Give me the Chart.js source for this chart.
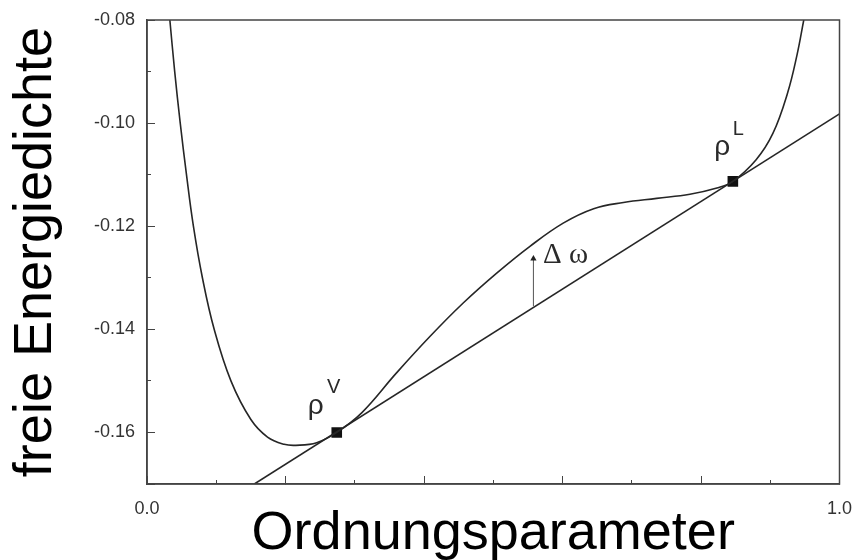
<!DOCTYPE html>
<html lang="de">
<head>
<meta charset="utf-8" />
<title>Freie Energiedichte</title>
<script src="https://cdn.jsdelivr.net/npm/chart.js@4/dist/chart.umd.min.js"></script>
<style>
  body { margin: 0; background: #fff; }
  #wrap { width: 858px; height: 560px; position: relative; }
</style>
</head>
<body>
<div id="wrap"><canvas id="chart"></canvas></div>
<script>
// free energy density curve
const curveX = [0.033, 0.040, 0.048, 0.057, 0.067, 0.080, 0.097, 0.1212, 0.150, 0.174, 0.198, 0.215, 0.245, 0.274,
                0.310, 0.360, 0.4085, 0.4566, 0.505, 0.553, 0.601, 0.645, 0.688, 0.736, 0.784, 0.823, 0.846,
                0.8796, 0.9038, 0.9249, 0.9386, 0.9484];
const curveY = [-0.080, -0.090, -0.100, -0.110, -0.120, -0.130, -0.140, -0.150, -0.1575, -0.1609, -0.1623, -0.1625, -0.1620, -0.1600,
                -0.1562, -0.1485, -0.1414, -0.1349, -0.1291, -0.1239, -0.1194, -0.1166, -0.1154, -0.1146, -0.1138, -0.1126, -0.1113,
                -0.1071, -0.1020, -0.0942, -0.0868, -0.080];

// common tangent
const tangentX = [0.155, 1.0];
const tangentY = [-0.170, -0.0982];

// coexistence densities rho^V and rho^L
const coexX = [0.274, 0.846];
const coexY = [-0.1600, -0.1113];

// delta omega arrow (foot on the tangent, head below the curve)
const arrowX = [0.558, 0.558];
const arrowY = [-0.1355, -0.1263];

// annotation texts, anchored at left / baseline
const labelText = ["ρ", "V", "ρ", "L", "Δ ω"];
const labelX = [0.232, 0.260, 0.819, 0.846, 0.572];
const labelY = [-0.1565, -0.1523, -0.1061, -0.1023, -0.1271];

const sans = '"Liberation Sans", Arial, sans-serif';
const labelFonts = ["28px " + sans, "20px " + sans, "28px " + sans, "20px " + sans, '29px "Liberation Serif", "Times New Roman", serif'];

const toPoints = (xs, ys) => xs.map((x, i) => ({ x: x, y: ys[i] }));

// the scale paddings are dropped so the plot box sits where layout.padding puts it
const noPad = s => { s.paddingTop = 0; s.paddingBottom = 0; s.paddingLeft = 0; s.paddingRight = 0; };

const framePlugin = {
  id: "frame",
  afterDraw(chart) {
    const { ctx, chartArea } = chart;
    ctx.save();
    ctx.strokeStyle = "#444";
    ctx.lineWidth = 1.5;
    ctx.strokeRect(chartArea.left, chartArea.top, chartArea.right - chartArea.left, chartArea.bottom - chartArea.top);
    ctx.restore();
  }
};

const labelPlugin = {
  id: "labels",
  afterDatasetsDraw(chart) {
    const { ctx, scales } = chart;
    ctx.save();
    ctx.fillStyle = "#2a2a2a";
    ctx.textAlign = "left";
    ctx.textBaseline = "alphabetic";
    labelText.forEach((t, i) => {
      ctx.font = labelFonts[i];
      ctx.fillText(t, scales.x.getPixelForValue(labelX[i]), scales.y.getPixelForValue(labelY[i]));
    });
    ctx.restore();
  }
};

new Chart(document.getElementById("chart"), {
  type: "line",
  data: {
    datasets: [
      {
        data: toPoints(curveX, curveY),
        borderColor: "#262626",
        borderWidth: 1.6,
        pointRadius: 0,
        tension: 0.4
      },
      {
        data: toPoints(tangentX, tangentY),
        borderColor: "#262626",
        borderWidth: 1.6,
        pointRadius: 0
      },
      {
        data: toPoints(arrowX, arrowY),
        borderColor: "#555",
        borderWidth: 1,
        pointStyle: "triangle",
        pointRadius: [0, 3.6],
        pointBackgroundColor: "#222",
        pointBorderWidth: 0
      },
      {
        data: toPoints(coexX, coexY),
        showLine: false,
        pointStyle: "rect",
        pointRadius: 7.5,
        pointBackgroundColor: "#111",
        pointBorderWidth: 0
      }
    ]
  },
  options: {
    responsive: true,
    maintainAspectRatio: false,
    animation: false,
    layout: { padding: { top: 20, right: 18.5, left: 0, bottom: 0 } },
    plugins: { legend: { display: false }, tooltip: { enabled: false } },
    scales: {
      x: {
        type: "linear",
        position: "bottom",
        weight: 1,
        min: 0,
        max: 1,
        ticks: {
          stepSize: 0.2,
          autoSkip: false,
          maxRotation: 0,
          padding: 22,
          color: "#333",
          font: { family: sans, size: 18 },
          callback: v => (v === 0 || v === 1) ? v.toFixed(1) : ""
        },
        grid: { drawOnChartArea: false, tickLength: -8, color: "#444" },
        border: { color: "#444", width: 1.5 },
        title: {
          display: true,
          text: "Ordnungsparameter",
          color: "#000",
          font: { family: sans, size: 54, lineHeight: 1 },
          padding: { top: 0, bottom: -1 }
        },
        afterFit: s => { s.height = 76; noPad(s); }
      },
      xMinor: {
        type: "linear",
        position: "bottom",
        weight: 0,
        min: 0,
        max: 1,
        ticks: { stepSize: 0.1, display: false },
        grid: { drawOnChartArea: false, tickLength: -4, color: "#444" },
        border: { display: false },
        afterFit: s => { s.height = 0; noPad(s); }
      },
      y: {
        type: "linear",
        position: "left",
        weight: 1,
        min: -0.17,
        max: -0.08,
        ticks: {
          stepSize: 0.02,
          autoSkip: false,
          padding: 20,
          color: "#333",
          font: { family: sans, size: 18 },
          callback: v => {
            const c = Math.round(v * 100);
            return c % 2 === 0 ? (c / 100).toFixed(2) : "";
          }
        },
        grid: { drawOnChartArea: false, tickLength: -8, color: "#444" },
        border: { color: "#444", width: 1.5 },
        title: {
          display: true,
          text: "freie Energiedichte",
          color: "#000",
          font: { family: sans, size: 54, lineHeight: 1 },
          padding: { top: 9, bottom: 0 }
        },
        afterFit: s => { s.width = 147; noPad(s); }
      },
      yMinor: {
        type: "linear",
        position: "left",
        weight: 0,
        min: -0.17,
        max: -0.08,
        ticks: { stepSize: 0.01, display: false },
        grid: { drawOnChartArea: false, tickLength: -4, color: "#444" },
        border: { display: false },
        afterFit: s => { s.width = 0; noPad(s); }
      }
    }
  },
  plugins: [framePlugin, labelPlugin]
});
</script>
</body>
</html>
